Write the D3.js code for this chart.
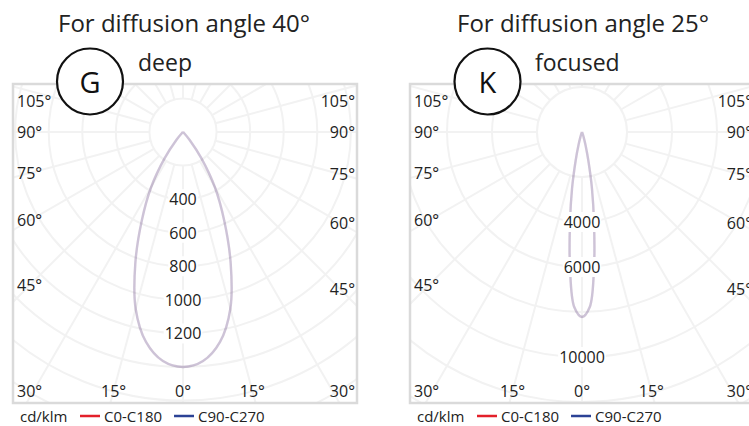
<!DOCTYPE html>
<html><head><meta charset="utf-8">
<script src="https://cdn.jsdelivr.net/npm/d3@7"></script>
<style>body{margin:0;background:#fff} svg{display:block;font-family:'Open Sans',sans-serif}</style>
</head><body><svg id="c" width="749" height="426"></svg>
<script>
// ---- data ----
const titles = ["For diffusion angle 40°", "For diffusion angle 25°"];
const badges = ["G", "K"];
const subtitles = ["deep", "focused"];
const seriesNames = ["C0-C180", "C90-C270"];
const unitLabel = "cd/klm";
const angleTicks = [0, 15, 30, 45, 60, 75, 90, 105];

const anglesG = [0, 5, 10, 15, 20, 25, 30, 35, 40, 45, 50, 60, 70, 80, 90];
const c0G  = [1400, 1370, 1270, 1090, 830, 580, 380, 190, 60, 10, 0, 0, 0, 0, 0];
const c90G = [1400, 1370, 1270, 1090, 830, 580, 380, 190, 60, 10, 0, 0, 0, 0, 0];
const ringLabelsG = [400, 600, 800, 1000, 1200];
const ringStepG = 200;

const anglesK = [0, 2.5, 5, 7.5, 10, 12.5, 15, 17.5, 20, 25, 30, 40, 50, 60, 70, 80, 90];
const c0K  = [8220, 7800, 6100, 4100, 2550, 1300, 600, 250, 100, 20, 0, 0, 0, 0, 0, 0, 0];
const c90K = [8220, 7800, 6100, 4100, 2550, 1300, 600, 250, 100, 20, 0, 0, 0, 0, 0, 0, 0];
const ringLabelsK = [4000, 6000, 10000];
const ringStepK = 2000;

const colors = ["#e3202a", "#2b4295"];

// ---- layout ----
const panels = [
  {x0: 13, x1: 357, cx: 183, angles: anglesG, series: [c0G, c90G], rings: ringLabelsG, step: ringStepG, domMax: 1400, rMax: 235, badgeX: 90, subX: 138},
  {x0: 410, x1: 754, cx: 582, angles: anglesK, series: [c0K, c90K], rings: ringLabelsK, step: ringStepK, domMax: 10000, rMax: 225, badgeX: 487.5, subX: 535}
];
const y0 = 84, y1 = 403, cy = 132;
const svg = d3.select("#c");
const rad = d => d * Math.PI / 180;

panels.forEach((p, i) => {
  const r = d3.scaleLinear().domain([0, p.domMax]).range([0, p.rMax]);
  const g = svg.append("g");
  const clipId = "clip" + i;
  svg.append("clipPath").attr("id", clipId).append("rect")
    .attr("x", p.x0).attr("y", y0).attr("width", p.x1 - p.x0).attr("height", y1 - y0);

  const grid = g.append("g").attr("clip-path", `url(#${clipId})`);
  const ringVals = d3.range(1, 16).map(k => k * p.step);
  grid.selectAll("circle.ring").data(ringVals).join("circle")
    .attr("cx", p.cx).attr("cy", cy).attr("r", d => r(d))
    .attr("fill", "none").attr("stroke", "#f2f2f2").attr("stroke-width", 2);
  const rays = d3.range(0, 360, 15);
  grid.selectAll("line.ray").data(rays).join("line")
    .attr("x1", d => p.cx + Math.sin(rad(d)) * r(p.step))
    .attr("y1", d => cy + Math.cos(rad(d)) * r(p.step))
    .attr("x2", d => p.cx + Math.sin(rad(d)) * 600)
    .attr("y2", d => cy + Math.cos(rad(d)) * 600)
    .attr("stroke", "#f2f2f2").attr("stroke-width", 2);

  g.append("rect").attr("x", p.x0).attr("y", y0).attr("width", p.x1 - p.x0).attr("height", y1 - y0)
    .attr("fill", "none").attr("stroke", "#dadada").attr("stroke-width", 2.5);

  const line = d3.lineRadial().angle(d => d[0]).radius(d => r(d[1])).curve(d3.curveCatmullRom.alpha(0.5));
  p.series.forEach((vals, si) => {
    let pts = [];
    for (let k = 0; k < p.angles.length; k++) {
      pts.push([p.angles[k], vals[k]]);
      if (vals[k] === 0) break;
    }
    const right = pts.slice().reverse().map(d => [Math.PI - rad(d[0]), d[1]]);
    const left = pts.slice(1).map(d => [Math.PI + rad(d[0]), d[1]]);
    g.append("path").attr("transform", `translate(${p.cx},${cy})`)
      .attr("d", line(right.concat(left)))
      .attr("fill", "none").attr("stroke", colors[si])
      .attr("stroke-opacity", si === 0 ? 0.1 : 0.22).attr("stroke-width", 2.4);
  });

  p.rings.forEach(v => {
    const t = g.append("text").attr("x", p.cx).attr("y", cy + r(v))
      .attr("text-anchor", "middle").attr("dominant-baseline", "central")
      .attr("font-size", 16).attr("fill", "#222").text(v);
    const bb = t.node().getBBox();
    g.insert("rect", () => t.node()).attr("x", bb.x - 1).attr("y", bb.y + 1).attr("width", bb.width + 2).attr("height", bb.height - 2).attr("fill", "#fff");
  });

  const halfL = 153, halfR = 157, bottom = cy + 259, top = y0 + 17;
  angleTicks.forEach(a => {
    const sides = a === 0 ? [0] : [-1, 1];
    sides.forEach(s => {
      const dx = s * Math.sin(rad(a)), dy = Math.cos(rad(a));
      const half = s < 0 ? halfL : halfR;
      const tx = dx !== 0 ? half / Math.abs(dx) : Infinity;
      const ty = dy > 0 ? (bottom - cy) / dy : Infinity;
      let x, y, anchor;
      if (ty <= tx) { x = p.cx + dx * ty; y = bottom; anchor = "middle"; }
      else { y = Math.max(top, cy + dy * tx); x = s < 0 ? p.x0 + 4 : p.x1 - 2; anchor = s < 0 ? "start" : "end"; }
      if (a === 30) { x = s < 0 ? p.x0 + 4 : p.x1 - 2; anchor = s < 0 ? "start" : "end"; }
      g.append("text").attr("x", x).attr("y", y).attr("text-anchor", anchor)
        .attr("dominant-baseline", "central").attr("font-size", 16).attr("fill", "#222").text(a + "°");
    });
  });

  svg.append("text").attr("x", p.cx + 1).attr("y", 32).attr("text-anchor", "middle")
    .attr("font-size", 24).attr("fill", "#222").text(titles[i]);
  svg.append("circle").attr("cx", p.badgeX).attr("cy", 81.5).attr("r", 33)
    .attr("fill", "#fff").attr("stroke", "#111").attr("stroke-width", 2.2);
  svg.append("text").attr("x", p.badgeX).attr("y", 93).attr("text-anchor", "middle")
    .attr("font-size", 29).attr("fill", "#111").text(badges[i]);
  svg.append("text").attr("x", p.subX).attr("y", 71).attr("font-size", 23).attr("fill", "#222").text(subtitles[i]);

  const ly = 416;
  const lg = svg.append("g").attr("font-size", 15).attr("fill", "#222");
  lg.append("text").attr("x", p.x0 + 7).attr("y", ly).attr("dominant-baseline", "central").text(unitLabel);
  let lx = p.x0 + 67;
  seriesNames.forEach((n, si) => {
    lg.append("line").attr("x1", lx).attr("x2", lx + 20).attr("y1", ly).attr("y2", ly)
      .attr("stroke", colors[si]).attr("stroke-width", 2.5);
    const t = lg.append("text").attr("x", lx + 24).attr("y", ly).attr("dominant-baseline", "central").text(n);
    lx = lx + 24 + t.node().getComputedTextLength() + 12;
  });
});
</script></body></html>
